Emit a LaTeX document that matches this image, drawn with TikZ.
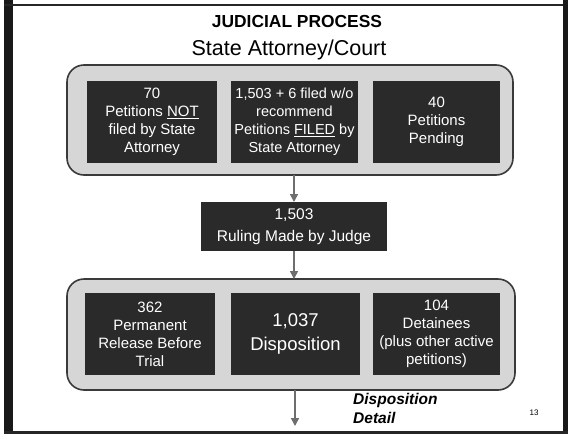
\documentclass[tikz,border=0pt]{standalone}
\usepackage{fontspec}
\setmainfont{Liberation Sans}
\usetikzlibrary{arrows.meta}
\definecolor{boxdark}{HTML}{2A2A2A}
\definecolor{contfill}{HTML}{D6D6D6}
\definecolor{contline}{HTML}{3A3A3A}
\definecolor{arrowgrey}{HTML}{6E6E6E}
\tikzset{
  container/.style={draw=contline, line width=1.6pt, fill=contfill, rounded corners=17pt, inner sep=0pt, outer sep=0pt},
  darkbox/.style={fill=boxdark, text=white, inner sep=0pt, outer sep=0pt, align=center, font=\fontsize{15}{18}\selectfont},
  flow/.style={draw=arrowgrey, line width=1.6pt, -{Triangle[width=8pt,length=8pt]}},
}
\begin{document}
\begin{tikzpicture}[x=1pt,y=-1pt]
\useasboundingbox (0,0) rectangle (570,434);
\fill[white] (0,0) rectangle (570,434);
% slide frame
\fill[black!90] (4,0) rectangle (13,434);
\fill[black!85] (4,3.5) rectangle (568,6);
\fill[black!90] (563,0) rectangle (568,434);
\fill[black!85] (4,431) rectangle (568,434);
% titles
\node[font=\bfseries\fontsize{17.4}{20}\selectfont] (title) at (297,22) {JUDICIAL PROCESS};
\node[font=\fontsize{21.5}{24}\selectfont] (subtitle) at (289,50) {State Attorney/Court};
% top container
\node[container, minimum width=446pt, minimum height=110pt] (c1) at (290,120) {};
\node[darkbox, minimum width=130pt, minimum height=82pt] (b1) at (152,122) {70\\Petitions \underline{NOT}\\filed by State\\Attorney};
\node[darkbox, minimum width=127pt, minimum height=82pt, font=\fontsize{14.5}{18}\selectfont] (b2) at (294.5,122) {1,503 + 6 filed w/o\\recommend\\Petitions \underline{FILED} by\\State Attorney};
\node[darkbox, minimum width=127pt, minimum height=82pt] (b3) at (436.5,122) {40\\Petitions\\Pending};
% ruling
\node[darkbox, minimum width=186pt, minimum height=49pt, font=\fontsize{15.5}{22}\selectfont] (r) at (294,226.5) {1,503\\Ruling Made by Judge};
% bottom container
\node[container, minimum width=448pt, minimum height=111pt] (c2) at (291,334.5) {};
\node[darkbox, minimum width=130pt, minimum height=82pt] (d1) at (150,334) {362\\Permanent\\Release Before\\Trial};
\node[darkbox, minimum width=129pt, minimum height=82pt, font=\fontsize{18.5}{24}\selectfont] (d2) at (295.5,334) {1,037\\Disposition};
\node[darkbox, minimum width=127pt, minimum height=82pt] (d3) at (436.5,334) {104\\Detainees\\(plus other active\\petitions)};
% arrows
\coordinate (e) at (295,426);
\draw[flow] (c1.south -| r.north) -- (r.north);
\draw[flow] (r.south) -- (r.south |- c2.north);
\draw[flow] (c2.south -| e) -- (e);
% labels
\node[font=\bfseries\itshape\fontsize{15.5}{19}\selectfont, align=left, anchor=north west, inner sep=0pt] (detail) at (353,393) {Disposition\\Detail};
\node[font=\fontsize{8}{9}\selectfont] (pg) at (534,413) {13};
\end{tikzpicture}
\end{document}
